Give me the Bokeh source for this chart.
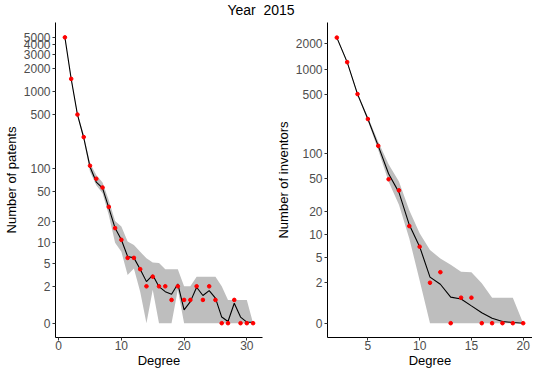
import numpy as np
from bokeh.plotting import figure
from bokeh.models import FixedTicker, CustomJSTickFormatter, Range1d, Div, ColumnDataSource
from bokeh.layouts import row, column
from bokeh.embed import file_html
from bokeh.resources import INLINE

title_text = "Year  2015"

# Left panel: patents
deg_p = list(range(1, 32))
pts_p = [5000, 1450, 500, 255, 108, 73, 56, 31, 16, 11, 6, 6, 4, 2, 3, 2, 2, 1, 2, 1,
         1, 2, 1, 2, 1, 0, 0, 1, 0, 0, 0]
line_p = [5000, 1450, 500, 250, 105, 66, 55, 30, 16, 11, 6.3, 6, 4, 2.45, 3.2, 1.97, 1.56,
          1.37, 2.22, 0.49, 0.9, 1.92, 1.28, 1.64, 1.11, 0.2, 0.05, 0.81, 0.2, 0.03, 0.03]
lo_p = [4900, 1400, 480, 235, 90, 60, 47, 24, 10, 7.4, 3.2, 4.1, 1.56, 0, 1.7, 0, 0, 0, 1.7, 0,
        0, 0, 0, 0, 0, 0, 0, 0, 0, 0, 0]
hi_p = [5080, 1500, 525, 275, 116, 82, 65, 38, 20, 16.8, 10.4, 9.3, 7.4, 5.9, 5.1, 5, 4, 4, 4, 2,
        2, 3, 3, 3, 3, 2, 1, 1, 1, 1, 0]
xticks_p = [0, 10, 20, 30]
yticks_p = [0, 2, 5, 10, 20, 50, 100, 500, 1000, 2000, 3000, 4000, 5000]

# Right panel: inventors
deg_i = list(range(2, 21))
pts_i = [2350, 1205, 505, 256, 123, 49, 36, 13, 7, 2, 3, 0, 1, 1, 0, 0, 0, 0, 0]
line_i = [2350, 1205, 505, 256, 123, 57, 34, 13.5, 7, 2.5, 1.88, 1.03, 0.93, 0.6, 0.33,
          0.145, 0.045, 0.02, 0]
lo_i = [2300, 1170, 485, 243, 110, 46, 24, 9, 2.2, 0, 0, 0, 0, 0, 0, 0, 0, 0, 0]
hi_i = [2400, 1240, 525, 270, 138, 74, 46, 20.5, 10.5, 6.3, 4.8, 3.9, 3.06, 3, 1.96, 1, 1, 1, 0]
xticks_i = [5, 10, 15, 20]
yticks_i = [0, 2, 5, 10, 20, 50, 100, 500, 1000, 2000]

FONT = "Liberation Sans"


def tr(v):
    return np.log10(1 + np.asarray(v, dtype=float))


def panel(deg, pts, line, lo, hi, xticks, yticks, ylabel, fw, bl, br):
    ys = np.concatenate([tr(pts), tr(line), tr(lo), tr(hi)])
    y0, y1 = ys.min(), ys.max()
    pad = 0.05 * (y1 - y0)
    x0, x1 = min(deg), max(deg)
    xpad = 0.05 * (x1 - x0)
    p = figure(frame_width=fw, frame_height=315,
               x_range=Range1d(x0 - xpad, x1 + xpad),
               y_range=Range1d(y0 - pad, y1 + pad),
               output_backend="svg", toolbar_location=None,
               min_border_left=bl, min_border_right=br,
               min_border_top=0, min_border_bottom=30)
    src = ColumnDataSource(dict(x=deg, pts=tr(pts), line=tr(line), lo=tr(lo), hi=tr(hi)))
    p.varea(x="x", y1="lo", y2="hi", source=src, fill_color="#BEBEBE")
    p.line(x="x", y="line", source=src, line_color="black", line_width=1.1)
    p.scatter(x="x", y="pts", source=src, size=3.6, fill_color="red", line_color="red")

    p.outline_line_color = None
    p.xgrid.visible = False
    p.ygrid.visible = False
    p.background_fill_color = "white"
    p.border_fill_color = "white"

    p.xaxis.ticker = FixedTicker(ticks=xticks, minor_ticks=[])
    p.yaxis.ticker = FixedTicker(ticks=list(tr(yticks)), minor_ticks=[])
    p.yaxis.formatter = CustomJSTickFormatter(
        code="return Math.round(Math.pow(10, tick) - 1).toString();")
    p.xaxis.axis_label = "Degree"
    p.yaxis.axis_label = ylabel
    for ax in (p.xaxis[0], p.yaxis[0]):
        ax.axis_line_color = "black"
        ax.axis_line_width = 1
        ax.major_tick_in = 0
        ax.major_tick_out = 3
        ax.major_tick_line_color = "#333333"
        ax.minor_tick_line_color = None
        ax.major_label_text_font = FONT
        ax.major_label_text_font_size = "12px"
        ax.major_label_text_color = "#4D4D4D"
        ax.major_label_standoff = 2
        ax.axis_label_text_font = FONT
        ax.axis_label_text_font_size = "13px"
        ax.axis_label_text_font_style = "normal"
        ax.axis_label_text_color = "black"
        ax.axis_label_standoff = 2
    p.xaxis[0].major_label_standoff = 0
    p.xaxis[0].axis_label_standoff = 0
    return p


p1 = panel(deg_p, pts_p, line_p, lo_p, hi_p, xticks_p, yticks_p, "Number of patents", 207, 47, 10)
p2 = panel(deg_i, pts_i, line_i, lo_i, hi_i, xticks_i, yticks_i, "Number of inventors", 205, 50, 0)

title = Div(text=title_text, width=522, height=22, margin=(0, 0, 0, 0),
            styles={"white-space": "pre", "text-align": "center", "font-family": FONT,
                    "font-size": "14px", "line-height": "20px", "color": "black"})

layout = column(title, row(p1, p2))
open("out.html", "w").write(file_html(layout, INLINE))
